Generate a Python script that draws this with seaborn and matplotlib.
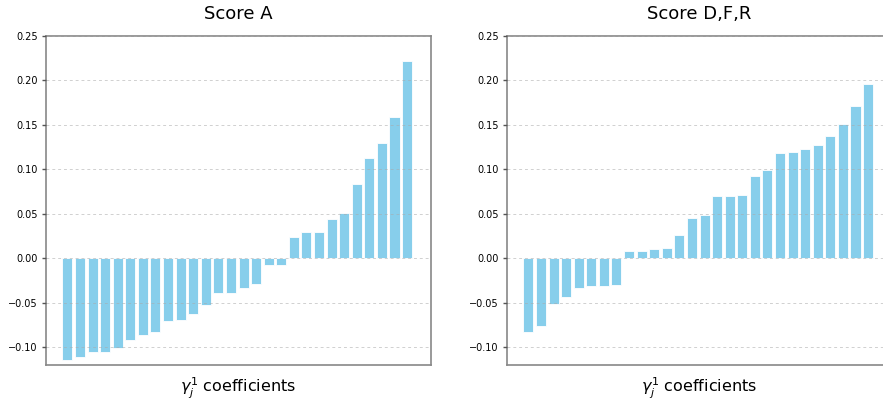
import matplotlib
matplotlib.use("Agg")
import matplotlib.pyplot as plt
import seaborn as sns
import pandas as pd

sns.set_style("ticks")
plt.rcParams["font.family"] = ["DejaVu Sans"]
plt.rcParams["text.color"] = "black"
plt.rcParams["axes.labelcolor"] = "black"
plt.rcParams["ytick.labelcolor"] = "black"

titles = ["Score A", "Score D,F,R"]
xlabel = r"$\gamma_j^1$ coefficients"
yticks = [-0.10, -0.05, 0.00, 0.05, 0.10, 0.15, 0.20, 0.25]

score_a = [-0.114, -0.111, -0.105, -0.105, -0.1005, -0.0915, -0.0866, -0.0833,
           -0.0709, -0.0698, -0.063, -0.0529, -0.0394, -0.0394, -0.0338, -0.0289,
           -0.0075, -0.0075, 0.024, 0.030, 0.030, 0.0446, 0.0514, 0.0833,
           0.113, 0.1298, 0.1594, 0.2217]
score_dfr = [-0.0833, -0.0765, -0.0514, -0.0439, -0.0334, -0.0315, -0.0315, -0.030,
             0.0083, 0.0083, 0.0105, 0.0116, 0.0266, 0.0458, 0.0484, 0.0705,
             0.0705, 0.0716, 0.0923, 0.0994, 0.1181, 0.1193, 0.123, 0.1275,
             0.1377, 0.1512, 0.1714, 0.1958]

W, H = 883, 405
fig = plt.figure(figsize=(W / 100, H / 100), dpi=100)
axes = [fig.add_axes([46 / W, 40 / H, 385 / W, 329 / H]),
        fig.add_axes([507 / W, 40 / H, 385 / W, 329 / H])]

for ax, title, vals in zip(axes, titles, [score_a, score_dfr]):
    df = pd.DataFrame({"coef": [f"c{i}" for i in range(len(vals))], "value": vals})
    sns.barplot(data=df, x="coef", y="value", ax=ax, color="#87CEEB",
                saturation=1, width=0.8, edgecolor="white", linewidth=0.6)
    ax.set_xlim(-1.7, len(vals) + 0.9)
    ax.set_ylim(-0.12, 0.25)
    ax.set_yticks(yticks)
    ax.set_yticklabels([f"{t:.2f}".replace("-", "\u2212") for t in yticks],
                       fontsize=7, color="black")
    ax.set_xticks([])
    ax.set_xlabel(xlabel, fontsize=11.5, labelpad=8, color="black")
    ax.set_ylabel("")
    ax.set_title(title, fontsize=13, pad=12, color="black")
    ax.set_axisbelow(False)
    ax.yaxis.grid(True, linestyle=(0, (3, 3)), color="#aaaaaa", alpha=0.55, linewidth=0.7)
    ax.tick_params(axis="y", length=3, width=1, color="#555555", pad=3)
    for s in ax.spines.values():
        s.set_color("#888888")
        s.set_linewidth(1.2)

fig.savefig("out.png", dpi=100)
